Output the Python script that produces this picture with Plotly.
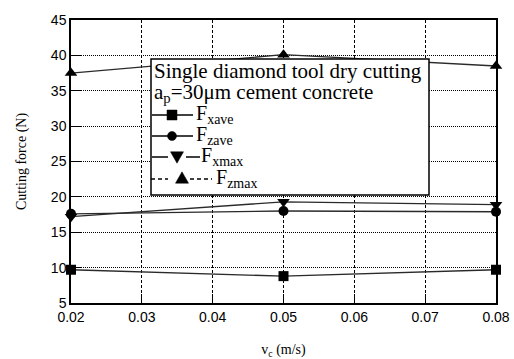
import plotly.graph_objects as go

# Cutting speed (m/s)
speed = [0.02, 0.05, 0.08]

# Cutting force components (N)
f_xave = [9.7, 8.8, 9.7]
f_zave = [17.6, 18.0, 17.9]
f_xmax = [17.2, 19.3, 18.9]
f_zmax = [37.5, 40.1, 38.5]

x_ticks = [0.02, 0.03, 0.04, 0.05, 0.06, 0.07, 0.08]
y_ticks = [5, 10, 15, 20, 25, 30, 35, 40, 45]

legend_title = ["Single diamond tool dry cutting",
                "a<sub>p</sub>=30μm cement concrete"]
legend_names = ["F<sub>xave</sub>", "F<sub>zave</sub>",
                "F<sub>xmax</sub>", "F<sub>zmax</sub>"]

serif = "Liberation Serif, Times New Roman, serif"
sans = "Liberation Sans, Arial, sans-serif"
ink = "#000000"
line_ink = "#2a2a2a"

M_L, M_R, M_T, M_B = 71, 18, 20, 56

fig = go.Figure()

traces = [
    (legend_names[0], f_xave, "square", 10),
    (legend_names[1], f_zave, "circle", 10),
    (legend_names[2], f_xmax, "triangle-down", 11),
    (legend_names[3], f_zmax, "triangle-up", 11),
]
for name, vals, sym, size in traces:
    fig.add_trace(go.Scatter(
        x=speed, y=vals, name=name, mode="lines+markers",
        line=dict(color=line_ink, width=1.3),
        marker=dict(symbol=sym, size=size, color=ink),
        cliponaxis=False, showlegend=False,
    ))

# ---- hand-drawn legend box, positioned in pixels from the plot's top-left ----
def px_shape(kind, x0=None, y0=None, x1=None, y1=None, path=None, **style):
    d = dict(type=kind, xref="paper", yref="paper",
             xsizemode="pixel", ysizemode="pixel", xanchor=0, yanchor=1,
             layer="above")
    if path is not None:
        d["path"] = path
    else:
        d.update(x0=x0 - M_L, x1=x1 - M_L, y0=M_T - y0, y1=M_T - y1)
    d.update(style)
    return d

def to_local(px, py):
    return px - M_L, M_T - py

def square_path(cx, cy, s):
    x, y = to_local(cx, cy)
    h = s / 2
    return f"M{x-h},{y-h} L{x+h},{y-h} L{x+h},{y+h} L{x-h},{y+h} Z"

def tri_path(cx, cy, s, up=True):
    x, y = to_local(cx, cy)
    h = s / 2
    k = 1 if up else -1
    return f"M{x-h},{y-k*h*0.8} L{x+h},{y-k*h*0.8} L{x},{y+k*h*0.95} Z"

shapes = [px_shape("rect", 151, 59, 429, 195,
                   line=dict(color=ink, width=1.5), fillcolor="white")]

solid = dict(color=ink, width=1.5)
dashed = dict(color=ink, width=1.3, dash="4px,3px")
fill = dict(fillcolor=ink, line=dict(color=ink, width=0.5))

# Fxave
shapes.append(px_shape("line", 152, 115, 193, 115, line=solid))
shapes.append(px_shape("path", path=square_path(172, 115, 10), **fill))
# Fzave
shapes.append(px_shape("line", 152, 136, 193, 136, line=solid))
shapes.append(px_shape("circle", 167.5, 131.5, 176.5, 140.5, **fill))
# Fxmax
shapes.append(px_shape("line", 152, 157, 168, 157, line=solid))
shapes.append(px_shape("line", 186, 157, 200, 157, line=solid))
shapes.append(px_shape("path", path=tri_path(177, 157, 13, up=False), **fill))
# Fzmax
shapes.append(px_shape("line", 151, 179, 168, 179, line=dashed))
shapes.append(px_shape("line", 190, 179, 212, 179, line=dashed))
shapes.append(px_shape("path", path=tri_path(182, 178, 13, up=True), **fill))

annotations = []
def px_text(text, px, py, size):
    annotations.append(dict(
        text=text, xref="paper", yref="paper", x=0, y=1,
        xanchor="left", yanchor="middle", showarrow=False,
        xshift=px - M_L, yshift=M_T - py,
        font=dict(family=serif, size=size, color=ink),
    ))

px_text(legend_title[0], 152, 71, 21)
px_text(legend_title[1], 152, 93, 21)
px_text(legend_names[0], 194, 114, 20)
px_text(legend_names[1], 194, 135, 20)
px_text(legend_names[2], 199, 156, 20)
px_text(legend_names[3], 214, 178, 20)

fig.update_layout(
    width=514, height=359,
    margin=dict(l=M_L, r=M_R, t=M_T, b=M_B),
    paper_bgcolor="white", plot_bgcolor="white",
    font=dict(family=sans, size=14, color=ink),
    showlegend=False,
    shapes=shapes,
    annotations=annotations,
)

fig.update_xaxes(
    range=[0.02, 0.08], tickvals=x_ticks,
    ticktext=[f"{v:.2f}" for v in x_ticks],
    automargin=False,
    showline=True, linecolor=ink, linewidth=1.5, mirror=True,
    ticks="inside", ticklen=9, tickcolor=ink, tickwidth=1,
    showgrid=True, gridcolor=ink, gridwidth=1, griddash="3px,2px",
    zeroline=False,
    tickfont=dict(family=sans, size=14, color=ink),
    title=dict(text="v<sub>c</sub> (m/s)",
               font=dict(family=serif, size=14, color=ink), standoff=23),
)
fig.update_yaxes(
    range=[5, 45], tickvals=y_ticks,
    automargin=False,
    showline=True, linecolor=ink, linewidth=1.5, mirror=True,
    ticks="inside", ticklen=10, tickcolor=ink, tickwidth=1,
    showgrid=True, gridcolor=ink, gridwidth=1, griddash="1px,1px",
    zeroline=False,
    tickfont=dict(family=sans, size=14, color=ink),
    title=dict(text="Cutting force (N)",
               font=dict(family=serif, size=14, color=ink), standoff=21),
)

fig.write_html("out.html")
